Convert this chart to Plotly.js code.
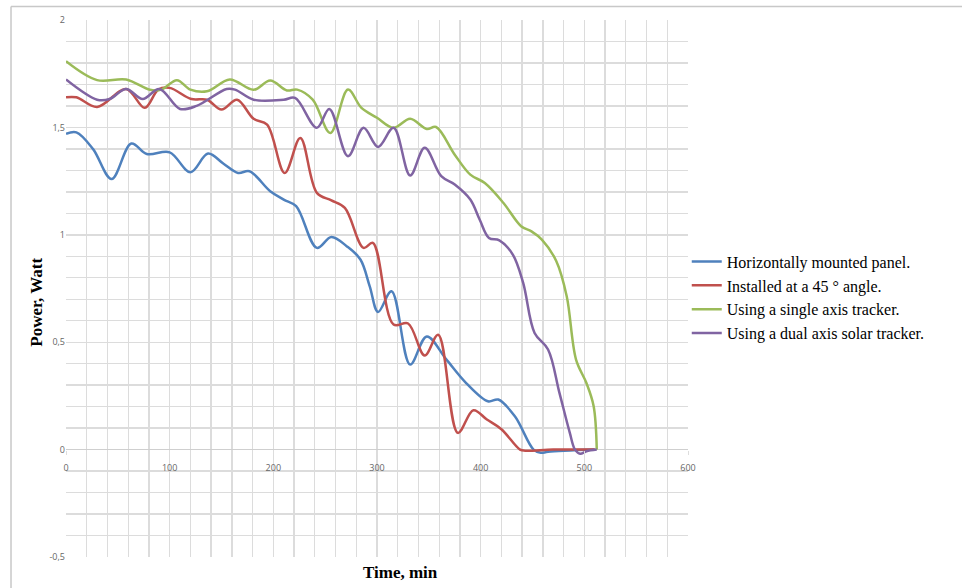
<!DOCTYPE html>
<html>
<head>
<meta charset="utf-8">
<script src="https://cdn.plot.ly/plotly-3.0.1.min.js"></script>
<style>html,body{margin:0;padding:0;background:#fff;}#chart{width:962px;height:588px;}</style>
</head>
<body>
<div id="chart"></div>
<script>
// Series names
const seriesNames = [
  "Horizontally mounted panel.",
  "Installed at a 45 ° angle.",
  "Using a single axis tracker.",
  "Using a dual axis solar tracker."
];

// Horizontally mounted panel
const horizX = [0, 10, 26, 44, 63, 78, 100, 120, 137, 152, 166, 177, 197, 210, 222, 242, 256, 271, 284, 293, 301, 314, 332, 348, 367, 386, 407, 417, 433, 451, 458, 465, 510];
const horizY = [1.47, 1.477, 1.40, 1.26, 1.425, 1.376, 1.384, 1.291, 1.378, 1.331, 1.288, 1.296, 1.203, 1.164, 1.133, 0.939, 0.99, 0.946, 0.885, 0.76, 0.641, 0.737, 0.396, 0.527, 0.419, 0.31, 0.225, 0.233, 0.155, 0, -0.015, -0.01, 0];

// Installed at a 45 degree angle
const angleX = [0, 10, 30, 58, 76, 89, 100, 121, 136, 150, 165, 181, 194, 211, 226, 242, 256, 269, 287, 296, 316, 330, 346, 359, 378, 393, 406, 420, 438, 443, 470, 510];
const angleY = [1.64, 1.64, 1.595, 1.679, 1.591, 1.676, 1.684, 1.632, 1.629, 1.583, 1.629, 1.54, 1.513, 1.288, 1.451, 1.195, 1.16, 1.125, 0.939, 0.962, 0.582, 0.587, 0.438, 0.535, 0.078, 0.183, 0.14, 0.095, 0, -0.005, 0, 0];

// Single axis tracker
const singleX = [0, 30, 58, 81, 92, 107, 120, 136, 158, 181, 197, 213, 223, 238, 255, 272, 285, 300, 316, 332, 348, 357, 375, 390, 404, 422, 439, 449, 459, 473, 483, 492, 502, 509, 512];
const singleY = [1.808, 1.72, 1.723, 1.675, 1.676, 1.72, 1.676, 1.668, 1.723, 1.675, 1.718, 1.672, 1.676, 1.629, 1.474, 1.676, 1.591, 1.545, 1.498, 1.54, 1.493, 1.502, 1.373, 1.28, 1.241, 1.148, 1.04, 1.016, 0.978, 0.877, 0.714, 0.419, 0.31, 0.202, 0];

// Dual axis solar tracker
const dualX = [0, 30, 42, 58, 74, 90, 110, 126, 155, 163, 181, 210, 221, 242, 254, 272, 287, 301, 316, 332, 346, 362, 375, 390, 399, 408, 418, 431, 441, 452, 465, 476, 486, 491, 496, 502, 512];
const dualY = [1.723, 1.629, 1.632, 1.679, 1.632, 1.679, 1.586, 1.6, 1.679, 1.676, 1.629, 1.629, 1.637, 1.498, 1.586, 1.366, 1.498, 1.409, 1.498, 1.276, 1.405, 1.273, 1.234, 1.164, 1.071, 0.985, 0.974, 0.908, 0.776, 0.543, 0.466, 0.264, 0.078, 0, -0.019, -0.008, 0];

const xTickVals = [0, 100, 200, 300, 400, 500, 600];
const yTickVals = [-0.5, 0, 0.5, 1, 1.5, 2];
const yTickText = ["-0,5", "0", "0,5", "1", "1,5", "2"];

const colors = ["#4F81BD", "#C0504D", "#9BBB59", "#8064A2"];
const xs = [horizX, angleX, singleX, dualX];
const ys = [horizY, angleY, singleY, dualY];

const traces = xs.map((x, i) => ({
  x: x, y: ys[i], name: seriesNames[i], type: "scatter", mode: "lines",
  line: {color: colors[i], width: 2.5, shape: "spline", smoothing: 1}
}));

const gridColor = "#dcdcdc";
const tickFont = {family: "Open Sans, Arial, sans-serif", size: 9, color: "#666"};
const serif = "Liberation Serif, Times New Roman, serif";

const layout = {
  width: 962, height: 588,
  margin: {l: 66, r: 274, t: 20, b: 31},
  paper_bgcolor: "#fff", plot_bgcolor: "#fff",
  separators: ", ",
  showlegend: true,
  legend: {
    x: 0.998, y: 0.483, xanchor: "left", yanchor: "middle",
    font: {family: serif, size: 16, color: "#000"},
    tracegroupgap: 0, itemwidth: 30, bgcolor: "rgba(0,0,0,0)"
  },
  xaxis: {
    range: [0, 600], tickvals: xTickVals, ticktext: xTickVals.map(String),
    anchor: "free", position: 0.2,
    showgrid: true, gridcolor: gridColor, gridwidth: 1.4,
    minor: {dtick: 20, showgrid: true, gridcolor: gridColor, gridwidth: 1.4},
    zeroline: false, showline: false,
    ticks: "outside", ticklen: 4, tickcolor: "#ddd", ticklabelstandoff: 6,
    tickfont: tickFont, fixedrange: true
  },
  yaxis: {
    range: [-0.5, 2], tickvals: yTickVals, ticktext: yTickText,
    showgrid: true, gridcolor: gridColor, gridwidth: 1.4,
    minor: {dtick: 0.1, showgrid: true, gridcolor: gridColor, gridwidth: 1.4},
    zeroline: true, zerolinecolor: "#cfcfcf", zerolinewidth: 1.5,
    showline: false, ticks: "", tickfont: tickFont, fixedrange: true
  },
  annotations: [
    {text: "<b>Power, Watt</b>", xref: "paper", yref: "paper", x: -0.047, y: 0.475,
     textangle: -90, showarrow: false, xanchor: "center", yanchor: "middle",
     font: {family: serif, size: 17, color: "#000"}},
    {text: "<b>Time, min</b>", xref: "paper", yref: "paper", x: 0.537, y: -0.028,
     showarrow: false, xanchor: "center", yanchor: "middle",
     font: {family: serif, size: 17, color: "#000"}}
  ],
  shapes: [
    {type: "line", xref: "paper", yref: "paper", x0: -0.0884, x1: 1.45, y0: 1.0251, y1: 1.0251,
     line: {color: "#c8c8c8", width: 1.5}},
    {type: "line", xref: "paper", yref: "paper", x0: -0.0884, x1: -0.0884, y0: 1.0251, y1: -0.06,
     line: {color: "#c8c8c8", width: 1.5}}
  ]
};

Plotly.newPlot("chart", traces, layout, {staticPlot: true, displayModeBar: false});
</script>
</body>
</html>
